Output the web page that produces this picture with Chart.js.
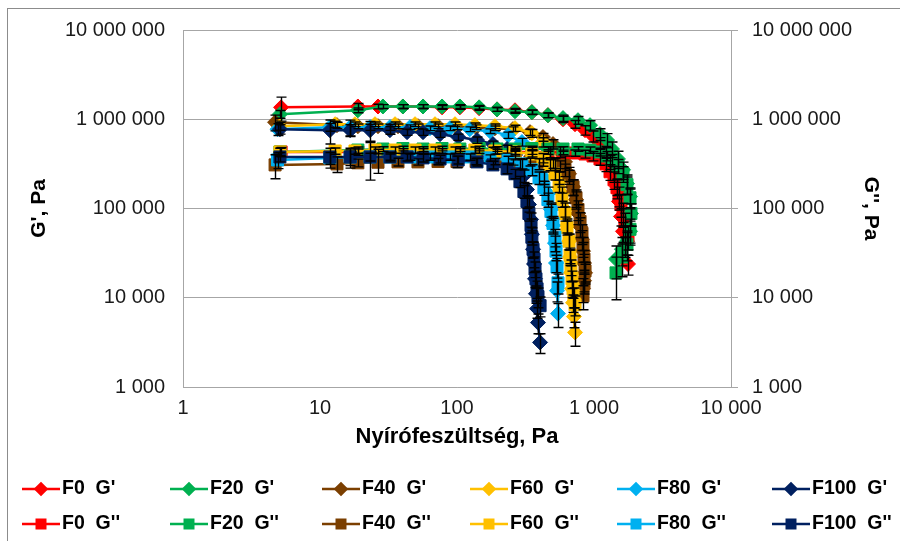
<!DOCTYPE html>
<html lang="hu">
<head>
<meta charset="utf-8">
<title>G' és G'' a nyírófeszültség függvényében</title>
<script src="https://cdn.jsdelivr.net/npm/chart.js@4.4.1/dist/chart.umd.min.js"></script>
<style>
  html, body { margin: 0; padding: 0; background: #fff; }
  canvas { display: block; }
</style>
</head>
<body>
<canvas id="rheoChart" width="900" height="541"></canvas>
<script>
/* Tengelyek osztásai */
const xTicks = [1, 10, 100, 1000, 10000];
const yTicks = [1000, 10000, 100000, 1000000, 10000000];

/* Minták és színek */
const samples = ['F0', 'F20', 'F40', 'F60', 'F80', 'F100'];
const sampleColors = ['#FF0000', '#00B050', '#7B3F00', '#FFC000', '#00B0F0', '#002060'];

/* Nyírófeszültség, Pa (mintánként) */
const stressF0 = [5.2, 18.9, 26.5, 40.3, 56.5, 77.8, 105, 145, 196, 265, 352, 461, 594, 727, 860, 984, 1106, 1223, 1309, 1400, 1472, 1522, 1574, 1628, 1683, 1771];
const stressF20 = [5.1, 18.9, 28.8, 40.3, 56.5, 77.8, 105, 145, 196, 265, 352, 461, 594, 764, 935, 1106, 1245, 1353, 1496, 1628, 1741, 1832, 1862, 1832, 1741, 1600, 1448];
const stressF40 = [4.7, 13.3, 18.9, 26.5, 37.1, 51.9, 72.7, 100, 138, 189, 256, 341, 424, 502, 565, 614, 657, 703, 739, 764, 791, 817, 831, 845, 860, 845, 831];
const stressF60 = [5.1, 12.9, 18.0, 25.2, 35.3, 49.4, 69.1, 96.7, 135, 189, 265, 352, 424, 477, 519, 556, 584, 614, 635, 657, 668, 679, 691, 703, 714, 727];
const stressF80 = [4.9, 11.8, 16.6, 23.2, 32.4, 45.4, 63.5, 88.9, 124, 174, 236, 298, 352, 397, 431, 461, 485, 502, 519, 528, 537, 546];
const stressF100 = [5.1, 11.8, 16.6, 23.2, 32.4, 43.2, 56.5, 75.2, 102, 140, 183, 232, 265, 288, 308, 324, 335, 347, 352, 359, 365, 371, 377, 384, 390, 404];

/* G' (tárolási modulus), Pa */
const gpF0 = [1.36e6, 1.39e6, 1.39e6, 1.39e6, 1.39e6, 1.36e6, 1.36e6, 1.33e6, 1.29e6, 1.26e6, 1.20e6, 1.11e6, 1.00e6, 8.8e5, 7.55e5, 6.47e5, 5.41e5, 4.30e5, 3.33e5, 2.45e5, 1.75e5, 1.20e5, 8.15e4, 5.55e4, 3.78e4, 2.39e4];
const gpF20 = [1.14e6, 1.26e6, 1.39e6, 1.39e6, 1.39e6, 1.39e6, 1.39e6, 1.36e6, 1.29e6, 1.23e6, 1.20e6, 1.11e6, 1.03e6, 9.75e5, 8.58e5, 6.81e5, 5.85e5, 4.64e5, 3.59e5, 2.71e5, 1.90e5, 1.36e5, 8.8e4, 5.55e4, 4.3e4, 3.5e4, 2.71e4];
const gpF40 = [9.26e5, 8.58e5, 8.36e5, 8.36e5, 8.36e5, 8.36e5, 8.36e5, 8.15e5, 8.15e5, 7.94e5, 7.74e5, 7.17e5, 6.31e5, 5.27e5, 4.3e5, 3.33e5, 2.45e5, 1.75e5, 1.26e5, 8.8e4, 6.3e4, 4.52e4, 3.33e4, 2.45e4, 1.9e4, 1.55e4, 1.26e4];
const gpF60 = [8.36e5, 8.8e5, 8.8e5, 8.8e5, 8.8e5, 8.8e5, 8.8e5, 8.8e5, 8.58e5, 8.36e5, 7.94e5, 6.99e5, 5.55e5, 4.3e5, 3.16e5, 2.21e5, 1.47e5, 9.75e4, 6.47e4, 4.3e4, 2.86e4, 1.9e4, 1.26e4, 8.8e3, 6.15e3, 4.09e3];
const gpF80 = [7.74e5, 8.15e5, 8.15e5, 8.15e5, 8.15e5, 8.15e5, 7.94e5, 7.94e5, 7.74e5, 7.36e5, 6.64e5, 5.55e5, 4.3e5, 3.16e5, 2.21e5, 1.47e5, 9.75e4, 6.47e4, 4.09e4, 2.45e4, 1.2e4, 6.64e3];
const gpF100 = [7.74e5, 7.55e5, 7.55e5, 7.55e5, 7.55e5, 7.17e5, 7.17e5, 6.81e5, 6.31e5, 5.85e5, 5.27e5, 4.64e5, 3.98e5, 3.16e5, 2.33e5, 1.63e5, 1.11e5, 7.55e4, 5.14e4, 3.49e4, 2.39e4, 1.63e4, 1.11e4, 7.55e3, 5.27e3, 3.16e3];

/* G'' (veszteségi modulus), Pa */
const gppF0 = [4.3e5, 4.3e5, 4.35e5, 4.4e5, 4.4e5, 4.4e5, 4.4e5, 4.4e5, 4.35e5, 4.3e5, 4.3e5, 4.3e5, 4.25e5, 4.19e5, 4.08e5, 3.88e5, 3.59e5, 3.16e5, 2.58e5, 2.10e5, 1.71e5, 1.39e5, 1.11e5, 8.8e4, 6.8e4, 4.9e4];
const gppF20 = [4.3e5, 4.52e5, 4.64e5, 4.7e5, 4.64e5, 4.7e5, 4.64e5, 4.7e5, 4.64e5, 4.64e5, 4.7e5, 4.64e5, 4.64e5, 4.64e5, 4.52e5, 4.3e5, 3.88e5, 3.5e5, 3.0e5, 2.45e5, 1.85e5, 1.32e5, 8.8e4, 5.85e4, 3.98e4, 2.86e4, 1.9e4];
const gppF40 = [3.08e5, 3.16e5, 3.25e5, 3.3e5, 3.33e5, 3.33e5, 3.36e5, 3.36e5, 3.36e5, 3.36e5, 3.33e5, 3.33e5, 3.3e5, 3.2e5, 3.0e5, 2.71e5, 2.27e5, 1.75e5, 1.32e5, 9.75e4, 7.17e4, 5.27e4, 3.78e4, 2.71e4, 2.0e4, 1.47e4, 1.05e4];
const gppF60 = [4.3e5, 4.41e5, 4.41e5, 4.52e5, 4.52e5, 4.52e5, 4.52e5, 4.52e5, 4.52e5, 4.41e5, 4.3e5, 4.08e5, 3.69e5, 3.08e5, 2.45e5, 1.8e5, 1.26e5, 8.8e4, 6.15e4, 4.3e4, 3.0e4, 2.21e4, 1.63e4, 1.26e4, 1.03e4, 8.36e3];
const gppF80 = [3.5e5, 3.69e5, 3.78e5, 3.78e5, 3.78e5, 3.78e5, 3.78e5, 3.78e5, 3.78e5, 3.69e5, 3.5e5, 3.16e5, 2.71e5, 2.21e5, 1.71e5, 1.26e5, 9.26e4, 6.8e4, 4.76e4, 3.33e4, 2.21e4, 1.47e4];
const gppF100 = [3.78e5, 3.78e5, 3.78e5, 3.78e5, 3.78e5, 3.78e5, 3.69e5, 3.59e5, 3.5e5, 3.33e5, 3.08e5, 2.78e5, 2.45e5, 2.0e5, 1.55e5, 1.2e5, 8.8e4, 6.47e4, 4.76e4, 3.49e4, 2.71e4, 2.1e4, 1.63e4, 1.26e4, 1.03e4, 8.15e3];

/* Relatív szórás a mérési pontokon, % */
const errGpF0 = [30, 8, 6, 5, 5, 5, 5, 5, 5, 5, 6, 6, 8, 10, 12, 14, 15, 15, 18, 20, 20, 20, 22, 25, 25, 25];
const errGpF20 = [10, 6, 5, 5, 5, 5, 5, 5, 5, 5, 5, 6, 8, 10, 12, 15, 18, 20, 22, 22, 25, 25, 28, 30, 30, 35, 40];
const errGpF40 = [20, 8, 6, 6, 6, 6, 6, 6, 6, 6, 6, 8, 10, 12, 14, 16, 18, 20, 22, 25, 25, 25, 25, 25, 25, 25, 30];
const errGpF60 = [10, 8, 6, 6, 6, 6, 6, 6, 6, 6, 8, 10, 12, 14, 15, 16, 18, 18, 18, 20, 20, 20, 20, 22, 25, 30];
const errGpF80 = [15, 10, 20, 8, 8, 6, 6, 6, 6, 6, 8, 10, 12, 14, 16, 18, 18, 20, 20, 22, 25, 30];
const errGpF100 = [12, 30, 15, 25, 10, 8, 8, 8, 8, 8, 8, 10, 12, 14, 16, 16, 18, 18, 18, 20, 20, 20, 22, 22, 25, 25];
const errGppF0 = [12, 8, 6, 6, 6, 6, 6, 6, 6, 6, 6, 6, 6, 8, 10, 12, 15, 18, 20, 22, 25, 25, 28, 30, 30, 30];
const errGppF20 = [10, 8, 6, 6, 6, 6, 6, 6, 6, 6, 6, 6, 6, 6, 8, 10, 12, 15, 18, 20, 22, 25, 28, 30, 35, 40, 50];
const errGppF40 = [30, 20, 10, 25, 10, 8, 8, 15, 8, 8, 8, 10, 10, 12, 14, 16, 18, 20, 22, 25, 25, 25, 25, 25, 25, 25, 30];
const errGppF60 = [10, 8, 8, 8, 8, 8, 8, 8, 8, 8, 10, 10, 12, 14, 15, 16, 18, 18, 18, 20, 20, 20, 22, 22, 25, 25];
const errGppF80 = [20, 15, 25, 10, 8, 8, 8, 8, 8, 8, 10, 12, 14, 16, 18, 18, 20, 20, 22, 22, 25, 25];
const errGppF100 = [12, 25, 20, 45, 12, 10, 10, 10, 10, 10, 10, 12, 12, 14, 16, 16, 18, 18, 18, 20, 20, 20, 22, 22, 25, 25];

const stress = [stressF0, stressF20, stressF40, stressF60, stressF80, stressF100];
const gp = [gpF0, gpF20, gpF40, gpF60, gpF80, gpF100];
const gpp = [gppF0, gppF20, gppF40, gppF60, gppF80, gppF100];
const errGp = [errGpF0, errGpF20, errGpF40, errGpF60, errGpF80, errGpF100];
const errGpp = [errGppF0, errGppF20, errGppF40, errGppF60, errGppF80, errGppF100];

const FONT = "'Liberation Sans', Arial, sans-serif";

// 1000000 -> "1 000 000"
function fmt(v) {
    return String(v).replace(/\B(?=(\d{3})+(?!\d))/g, ' ');
}

function points(xs, ys) {
    return xs.map((x, i) => ({ x: x, y: ys[i] }));
}

function series(label, xs, ys, errs, color, style, axis) {
    return {
        label: label,
        data: points(xs, ys),
        errors: errs,
        yAxisID: axis,
        borderColor: color,
        backgroundColor: color,
        borderWidth: 2.5,
        pointStyle: style,
        pointRadius: style === 'rect' ? 8.5 : 7.5,
        pointBorderWidth: 1,
        pointBorderColor: color,
        pointBackgroundColor: color,
        tension: 0,
        fill: false
    };
}

const datasets = [];
samples.forEach((s, i) => {
    datasets.push(series(s + "  G'", stress[i], gp[i], errGp[i], sampleColors[i], 'rectRot', 'y'));
});
samples.forEach((s, i) => {
    datasets.push(series(s + "  G''", stress[i], gpp[i], errGpp[i], sampleColors[i], 'rect', 'y2'));
});
// a később felvett sorozat kerüljön felülre
datasets.forEach((d, i) => { d.order = -i; });

/* Fehér háttér és szürke keret */
const frame = {
    id: 'frame',
    beforeDraw(chart) {
        const ctx = chart.ctx;
        ctx.save();
        ctx.fillStyle = '#fff';
        ctx.fillRect(0, 0, chart.width, chart.height);
        ctx.strokeStyle = '#8c8c8c';
        ctx.lineWidth = 1;
        ctx.strokeRect(7.5, 8.5, chart.width + 10, chart.height + 10);
        ctx.restore();
    }
};

/* Hibasávok */
const errorBars = {
    id: 'errorBars',
    afterDatasetsDraw(chart) {
        const ctx = chart.ctx;
        const area = chart.chartArea;
        ctx.save();
        ctx.beginPath();
        ctx.rect(area.left, area.top, area.right - area.left, area.bottom - area.top);
        ctx.clip();
        ctx.strokeStyle = '#000';
        ctx.lineWidth = 1.4;
        chart.data.datasets.forEach((ds, i) => {
            const meta = chart.getDatasetMeta(i);
            const scale = chart.scales[ds.yAxisID];
            meta.data.forEach((pt, j) => {
                const v = ds.data[j].y;
                const e = v * ds.errors[j] / 100;
                const top = scale.getPixelForValue(v + e);
                const bot = scale.getPixelForValue(v - e);
                const x = Math.round(pt.x) + 0.5;
                ctx.beginPath();
                ctx.moveTo(x, top); ctx.lineTo(x, bot);
                ctx.moveTo(x - 5, top); ctx.lineTo(x + 5, top);
                ctx.moveTo(x - 5, bot); ctx.lineTo(x + 5, bot);
                ctx.stroke();
            });
        });
        ctx.restore();
    }
};

/* Jelmagyarázat két sorban, hat oszlopban */
const legendCols = [22, 170, 322, 470, 617, 772];
const legendRows = [489, 524];
const legend = {
    id: 'rowLegend',
    afterDraw(chart) {
        const ctx = chart.ctx;
        ctx.save();
        chart.data.datasets.forEach((ds, i) => {
            const x0 = legendCols[i % 6];
            const y = legendRows[Math.floor(i / 6)];
            ctx.strokeStyle = ds.borderColor;
            ctx.lineWidth = 2.5;
            ctx.beginPath();
            ctx.moveTo(x0, y);
            ctx.lineTo(x0 + 38, y);
            ctx.stroke();
            Chart.helpers.drawPoint(ctx, {
                pointStyle: ds.pointStyle,
                radius: ds.pointStyle === 'rect' ? 6 : 5.5,
                borderWidth: 1,
                rotation: 0
            }, x0 + 19, y);
            ctx.fillStyle = ds.borderColor;
            ctx.fill();
            ctx.fillStyle = '#000';
            ctx.font = 'bold 19.5px ' + FONT;
            ctx.textBaseline = 'middle';
            ctx.textAlign = 'left';
            ctx.fillText(ds.label, x0 + 40, y);
        });
        ctx.restore();
    }
};

function fixTicks(values) {
    return scale => { scale.ticks = values.map(v => ({ value: v })); };
}

const gridColor = '#a6a6a6';
const tickFont = { family: FONT, size: 20 };
const titleFont = { family: FONT, size: 21, weight: 'bold' };

new Chart(document.getElementById('rheoChart'), {
    type: 'line',
    data: { datasets: datasets },
    plugins: [frame, errorBars, legend],
    options: {
        responsive: false,
        animation: false,
        devicePixelRatio: 1,
        layout: { padding: { left: 7, right: 7, top: 27, bottom: 81 } },
        plugins: {
            legend: { display: false },
            tooltip: { enabled: false }
        },
        scales: {
            x: {
                type: 'logarithmic',
                position: 'bottom',
                min: 1,
                max: 10000,
                afterBuildTicks: fixTicks(xTicks),
                afterFit: s => { s.height = 73; },
                grid: { drawOnChartArea: false, drawTicks: false, color: gridColor },
                border: { display: true, color: gridColor, width: 1 },
                ticks: {
                    padding: 9,
                    color: '#1a1a1a',
                    font: tickFont,
                    maxRotation: 0,
                    autoSkip: false,
                    callback: v => fmt(v)
                },
                title: {
                    display: true,
                    text: 'Nyírófeszültség, Pa',
                    color: '#000',
                    font: { family: FONT, size: 22, weight: 'bold' },
                    padding: { top: 0, bottom: 10 }
                }
            },
            y: {
                type: 'logarithmic',
                position: 'left',
                min: 1000,
                max: 10000000,
                afterBuildTicks: fixTicks(yTicks),
                afterFit: s => { s.width = 176; },
                grid: { color: gridColor, drawTicks: false, lineWidth: 1 },
                border: { display: true, color: gridColor, width: 1 },
                ticks: {
                    padding: 18,
                    color: '#1a1a1a',
                    font: tickFont,
                    autoSkip: false,
                    callback: v => fmt(v)
                },
                title: {
                    display: true,
                    text: "G', Pa",
                    color: '#000',
                    font: titleFont,
                    padding: { top: 20, bottom: 0 }
                }
            },
            y2: {
                type: 'logarithmic',
                position: 'right',
                min: 1000,
                max: 10000000,
                afterBuildTicks: fixTicks(yTicks),
                afterFit: s => { s.width = 162; },
                grid: { drawOnChartArea: false, drawTicks: true, tickLength: 7, color: gridColor },
                border: { display: true, color: gridColor, width: 1 },
                ticks: {
                    padding: 14,
                    color: '#1a1a1a',
                    font: tickFont,
                    autoSkip: false,
                    callback: v => fmt(v)
                },
                title: {
                    display: true,
                    text: "G'', Pa",
                    color: '#000',
                    font: titleFont,
                    padding: { top: 10, bottom: 0 }
                }
            }
        }
    }
});
</script>
</body>
</html>
